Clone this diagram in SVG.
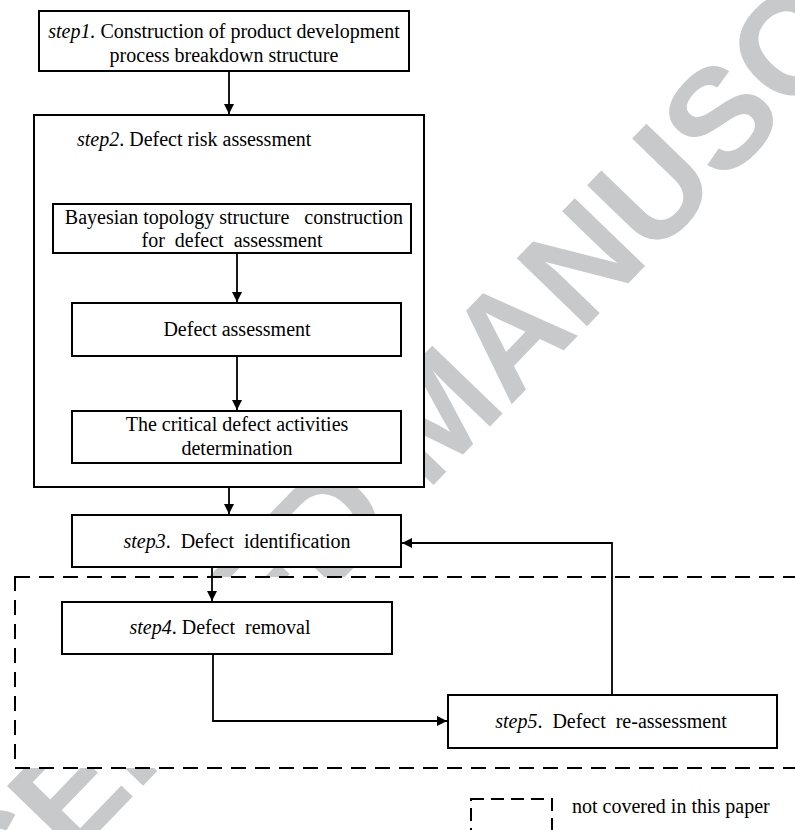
<svg xmlns="http://www.w3.org/2000/svg" width="795" height="830" viewBox="0 0 795 830">
<style>
.wm{font-family:"Liberation Sans",Arial,sans-serif;font-weight:bold;font-size:142px;fill:#c8c9cb}
.box{fill:#fff;stroke:#000;stroke-width:2}
.dash{fill:#fff;stroke:#000;stroke-width:2;stroke-dasharray:15 9}
.t{font-family:"Liberation Serif","Times New Roman",serif;font-size:20px;fill:#000;white-space:pre}
.m{text-anchor:middle}
.i{font-style:italic}
.c{fill:none;stroke:#000;stroke-width:1.8}
</style>
<defs>
<marker id="ah" viewBox="0 0 10 10" refX="10" refY="5" markerWidth="10" markerHeight="10" markerUnits="userSpaceOnUse" orient="auto">
<path d="M0,0 L10,5 L0,10 z" fill="#000"/>
</marker>
</defs>
<rect width="795" height="830" fill="#fff"/>
<text class="wm" transform="translate(-143,1082) rotate(-46)">ACCEPTED MANUSCRIPT</text>
<g id="scope">
<rect class="dash" x="15" y="577" width="800" height="191"/>
</g>
<g id="step1">
<rect class="box" x="39" y="11" width="370" height="60"/>
<text class="t m" x="224" y="38"><tspan class="i">step1.</tspan> Construction of product development</text>
<text class="t m" x="224" y="62">process breakdown structure</text>
</g>
<g id="step2">
<rect class="box" x="34" y="115" width="390" height="372"/>
<text class="t" x="77" y="146"><tspan class="i">step2</tspan>. Defect risk assessment</text>
</g>
<g id="bayes">
<rect class="box" x="53" y="204" width="358" height="49"/>
<text class="t m" x="234" y="224">Bayesian topology structure   construction</text>
<text class="t m" x="232" y="247">for  defect  assessment</text>
</g>
<g id="assess">
<rect class="box" x="72" y="303" width="329" height="53"/>
<text class="t m" x="237" y="336">Defect assessment</text>
</g>
<g id="critical">
<rect class="box" x="72" y="411" width="329" height="52"/>
<text class="t m" x="237" y="431">The critical defect activities</text>
<text class="t m" x="237" y="455">determination</text>
</g>
<g id="step3">
<rect class="box" x="72" y="515" width="329" height="52"/>
<text class="t m" x="237" y="548"><tspan class="i">step3</tspan>.  Defect  identification</text>
</g>
<g id="step4">
<rect class="box" x="62" y="602" width="330" height="52"/>
<text class="t m" x="220" y="634"><tspan class="i">step4</tspan>. Defect  removal</text>
</g>
<g id="step5">
<rect class="box" x="448" y="695" width="329" height="53"/>
<text class="t m" x="611" y="728"><tspan class="i">step5</tspan>.  Defect  re-assessment</text>
</g>
<g id="connectors">
<path class="c" d="M229,71 V114" marker-end="url(#ah)"/>
<path class="c" d="M237,253 V302" marker-end="url(#ah)"/>
<path class="c" d="M237,356 V410" marker-end="url(#ah)"/>
<path class="c" d="M229,487 V514" marker-end="url(#ah)"/>
<path class="c" d="M212,567 V601" marker-end="url(#ah)"/>
<path class="c" d="M213,654 V721 H447" marker-end="url(#ah)"/>
<path class="c" d="M612,695 V543 H402" marker-end="url(#ah)"/>
</g>
<g id="legend">
<rect x="471" y="799" width="81" height="50" fill="none" stroke="#000" stroke-width="2" stroke-dasharray="13 7"/>
<text class="t" x="572" y="813">not covered in this paper</text>
</g>
</svg>
